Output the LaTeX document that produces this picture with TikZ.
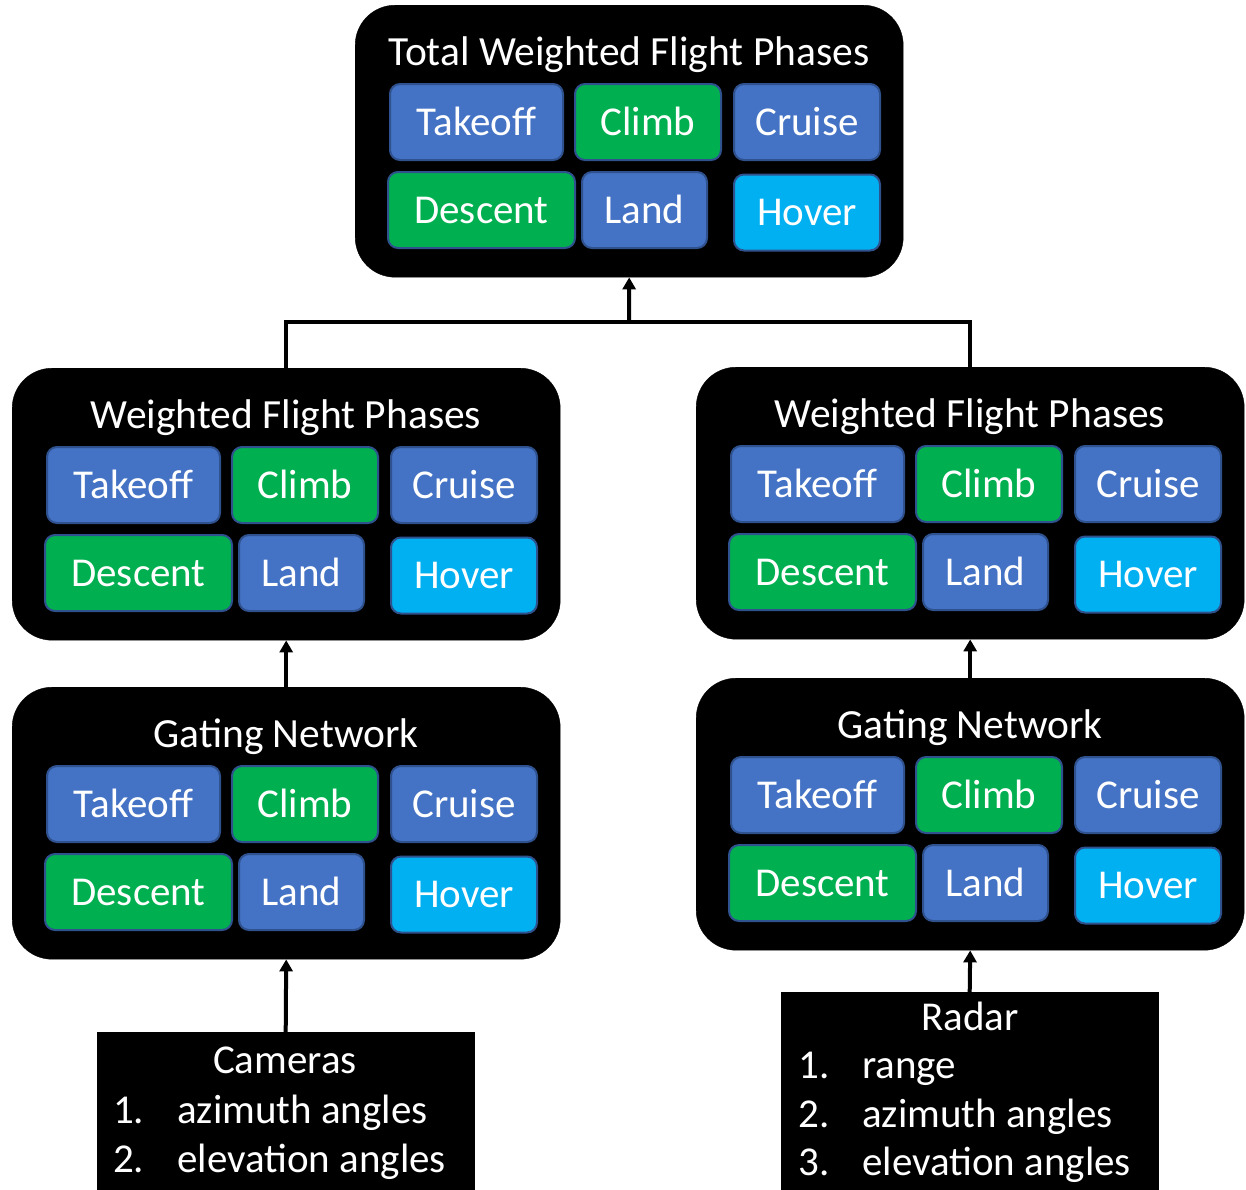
\documentclass[tikz,border=0pt]{standalone}
\usepackage{fontspec}
\setmainfont{Carlito}
\usetikzlibrary{arrows.meta}
\definecolor{pblue}{HTML}{4472C4}
\definecolor{pgreen}{HTML}{00B050}
\definecolor{pcyan}{HTML}{00B0F0}
\definecolor{pborder}{HTML}{2F528F}
\tikzset{
  outerbox/.style={fill=black, draw=black, rounded corners=40pt, anchor=north west, inner sep=0pt},
  phase/.style={draw=pborder, line width=2pt, rounded corners=10pt, text=white,
    font=\fontsize{41}{49}\selectfont, minimum height=76pt, inner sep=0pt,
    text height=26pt, text depth=0pt},
  titletext/.style={text=white, font=\fontsize{41.5}{50}\selectfont, inner sep=0pt, anchor=base},
  listbox/.style={fill=black, draw=black, anchor=north west, inner sep=0pt},
  listtext/.style={text=white, font=\fontsize{41}{49}\selectfont, inner sep=0pt},
  conn/.style={line width=4pt, draw=black},
  arrowc/.style={line width=4pt, draw=black, -{Triangle[width=13pt,length=12pt]}}
}
\newcommand\phaseblock[4]{%
  \node[outerbox, minimum width=548pt, minimum height=272pt] (#1) at (#2,#3) {};
  \begin{scope}[shift={(#2,#3)}]
    \node[titletext] (#1-title) at (274,60) {#4};
    \node[phase, fill=pblue, minimum width=173pt] (#1-takeoff) at (121.5,117) {Takeoff};
    \node[phase, fill=pgreen, minimum width=146pt] (#1-climb) at (293,117) {Climb};
    \node[phase, fill=pblue, minimum width=146pt] (#1-cruise) at (452,117) {Cruise};
    \node[phase, fill=pgreen, minimum width=187pt] (#1-descent) at (126.5,205) {Descent};
    \node[phase, fill=pblue, minimum width=125pt] (#1-land) at (289.5,205) {Land};
    \node[phase, fill=pcyan, minimum width=146pt] (#1-hover) at (452,207.5) {Hover};
  \end{scope}}
\begin{document}
\begin{tikzpicture}[x=1pt,y=-1pt]
  \useasboundingbox (0,0) rectangle (1246,1189);
  \phaseblock{top}{355}{5}{Total Weighted Flight Phases}
  \phaseblock{ml}{12}{368}{Weighted Flight Phases}
  \phaseblock{mr}{696}{367}{Weighted Flight Phases}
  \phaseblock{gl}{12}{687}{Gating Network}
  \phaseblock{gr}{696}{678}{Gating Network}
  % inputs
  \node[listbox, minimum width=377pt, minimum height=157pt] (cam) at (97,1032) {};
  \node[listtext, anchor=base] (cam-head) at (285,1073) {Cameras};
  \node[listtext, anchor=base west] (cam-n1) at (113,1123) {1.};
  \node[listtext, anchor=base west] (cam-t1) at (177,1123) {azimuth angles};
  \node[listtext, anchor=base west] (cam-n2) at (113,1172) {2.};
  \node[listtext, anchor=base west] (cam-t2) at (177,1172) {elevation angles};
  \node[listbox, minimum width=377pt, minimum height=197pt] (rad) at (781,992) {};
  \node[listtext, anchor=base] (rad-head) at (970,1030) {Radar};
  \node[listtext, anchor=base west] (rad-n1) at (798,1078) {1.};
  \node[listtext, anchor=base west] (rad-t1) at (862,1078) {range};
  \node[listtext, anchor=base west] (rad-n2) at (798,1127) {2.};
  \node[listtext, anchor=base west] (rad-t2) at (862,1127) {azimuth angles};
  \node[listtext, anchor=base west] (rad-n3) at (798,1175) {3.};
  \node[listtext, anchor=base west] (rad-t3) at (862,1175) {elevation angles};
  % connectors
  \coordinate (j) at (629,322);
  \draw[conn] (ml.north) |- (j) -| (mr.north);
  \draw[arrowc] (j) -- (top.south);
  \draw[arrowc] (gl.north) -- (ml.south);
  \draw[arrowc] (gr.north) -- (mr.south);
  \draw[arrowc] (cam.north) -- (gl.south);
  \draw[arrowc] (rad.north) -- (gr.south);
\end{tikzpicture}
\end{document}
